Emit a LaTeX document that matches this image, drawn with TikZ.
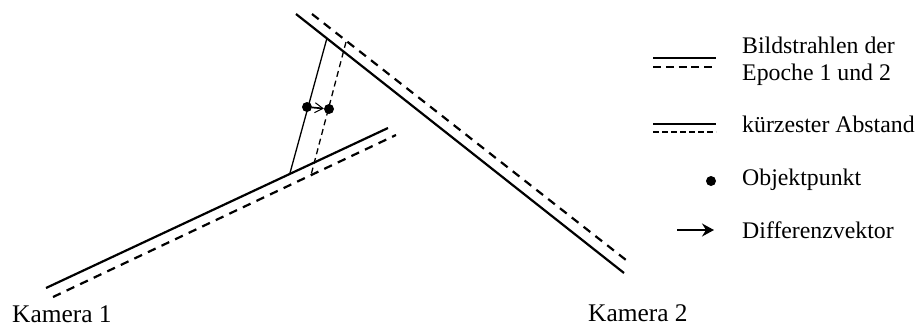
\documentclass[tikz,border=0pt]{standalone}
\usepackage{fontspec}
\setmainfont{Liberation Serif}
\usetikzlibrary{arrows.meta}
\tikzset{
 main/.style={line width=2.2pt,line cap=butt},
 maind/.style={line width=2.2pt,dash pattern=on 8.5pt off 6.5pt},
 thin1/.style={line width=1.3pt},
 thind/.style={line width=1.3pt,dash pattern=on 6pt off 4pt},
 legd/.style={line width=2.2pt,dash pattern=on 8pt off 4.8pt},
 legthin/.style={line width=1.3pt,dash pattern=on 5.5pt off 3.5pt},
 lab/.style={anchor=base west,inner sep=0pt,font=\fontsize{23.8}{28}\selectfont},
 klab/.style={anchor=base west,inner sep=0pt,font=\fontsize{25.4}{30}\selectfont},
 pt/.style={circle,fill=black,inner sep=0pt,minimum size=10pt},
 vec/.style={line width=1.7pt,-{Straight Barb[length=8pt,width=10pt,line width=1pt]}},
 legvec/.style={line width=1.8pt,-{Stealth[length=12pt,width=13pt,inset=4pt]}}
}
\begin{document}
\begin{tikzpicture}[x=1pt,y=-1pt]
\useasboundingbox (0,0) rectangle (918,327);
\coordinate (a1) at (46,288); \coordinate (a2) at (388,128);
\coordinate (b1) at (53,297); \coordinate (b2) at (396,135);
\coordinate (c1) at (296,14); \coordinate (c2) at (624,273);
\coordinate (d1) at (312,14); \coordinate (d2) at (626,260);
\coordinate (e1) at (327,38); \coordinate (e2) at (290,173);
\coordinate (f1) at (346,42); \coordinate (f2) at (311,175);
\draw[main] (a1)--(a2);
\draw[maind] (b1)--(b2);
\draw[main] (c1)--(c2);
\draw[maind] (d1)--(d2);
\draw[thin1] (e1)--(e2);
\draw[thind] (f1)--(f2);
\node[pt] (p) at (307,107) {};
\node[pt] (q) at (329,109) {};
\draw[vec] (p)--(q);
\node[klab] (k1) at (12,322) {Kamera 1};
\node[klab] (k2) at (588,321) {Kamera 2};
\coordinate (l1) at (653,58); \coordinate (l2) at (716,58);
\coordinate (l3) at (653,67); \coordinate (l4) at (716,67);
\coordinate (l5) at (653,124); \coordinate (l6) at (716,124);
\coordinate (l7) at (653,132); \coordinate (l8) at (716,132);
\draw[main] (l1)--(l2);
\draw[legd] (l3)--(l4);
\draw[thin1] (l5)--(l6);
\draw[legthin] (l7)--(l8);
\node[pt] (o) at (711,181) {};
\coordinate (v1) at (677,230); \coordinate (v2) at (714,230);
\draw[legvec] (v1)--(v2);
\node[lab] (t1) at (742,53) {Bildstrahlen der};
\node[lab] (t2) at (742,80) {Epoche 1 und 2};
\node[lab] (t3) at (742,132) {kürzester Abstand};
\node[lab] (t4) at (742,185) {Objektpunkt};
\node[lab] (t5) at (742,238) {Differenzvektor};
\end{tikzpicture}
\end{document}
